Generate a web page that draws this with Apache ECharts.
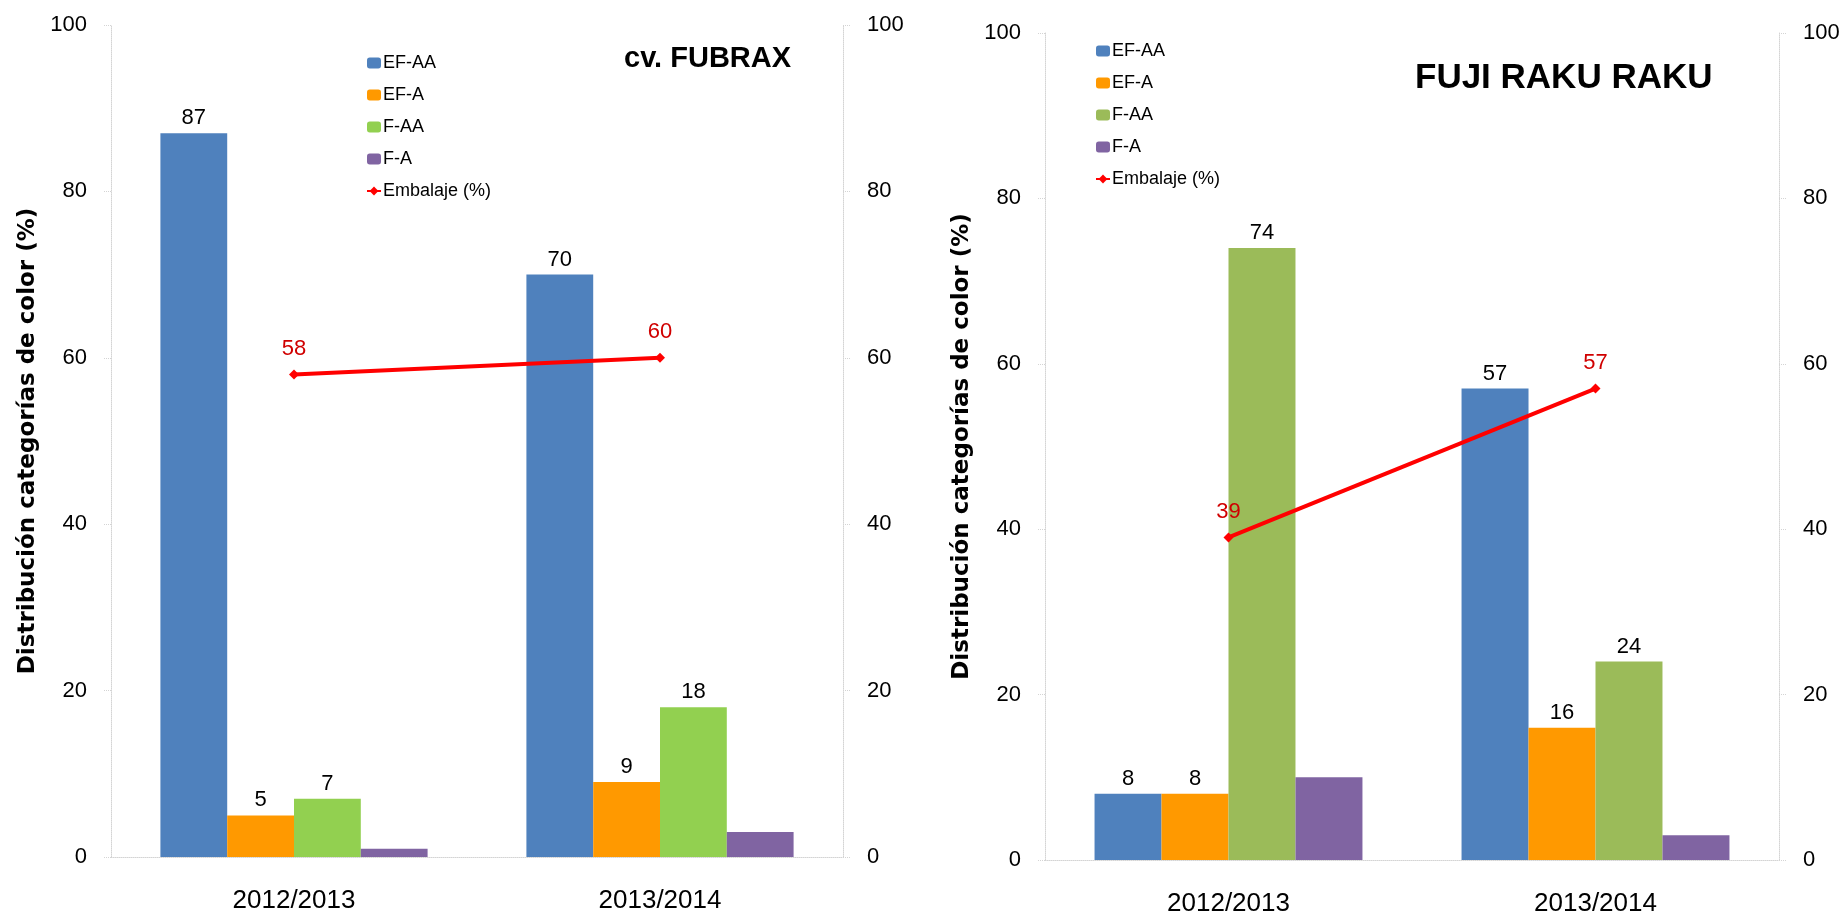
<!DOCTYPE html>
<html>
<head>
<meta charset="utf-8">
<script src="https://cdn.jsdelivr.net/npm/echarts@6/dist/echarts.min.js"></script>
<style>
  html, body { margin: 0; padding: 0; background: #fff; }
  #wrap { width: 1845px; height: 917px; position: relative; }
  .chart { position: absolute; top: 0; height: 917px; }
  #fubrax { left: 0; width: 920px; }
  #raku { left: 920px; width: 925px; }
</style>
</head>
<body>
<div id="wrap">
  <div class="chart" id="fubrax"></div>
  <div class="chart" id="raku"></div>
</div>
<script>
// categorias y valores
var years = ['2012/2013', '2013/2014'];
var barNames = ['EF-AA', 'EF-A', 'F-AA', 'F-A'];
var lineName = 'Embalaje (%)';
var yTicks = [0, 20, 40, 60, 80, 100];

// cv. FUBRAX
var fubraxEFAA = [87, 70];
var fubraxEFA = [5, 9];
var fubraxFAA = [7, 18];
var fubraxFA = [1, 3];
var fubraxEmbalaje = [58, 60];

// FUJI RAKU RAKU
var rakuEFAA = [8, 57];
var rakuEFA = [8, 16];
var rakuFAA = [74, 24];
var rakuFA = [10, 3];
var rakuEmbalaje = [39, 57];

var FONT = '"Liberation Sans", Arial, sans-serif';
var axisGray = '#d4d4d4';

function makeOption(cfg) {
  var colors = ['#4F81BD', '#FF9900', cfg.green, '#8064A2'];
  var barSeries = cfg.bars.map(function (vals, i) {
    return {
      name: barNames[i],
      type: 'bar',
      data: vals,
      barGap: '0%',
      barCategoryGap: '27%',
      itemStyle: { color: colors[i] },
      label: {
        show: i !== 3, // F-A sin etiqueta
        position: 'top',
        distance: 4,
        color: '#000',
        fontFamily: FONT,
        fontSize: 22
      }
    };
  });
  var yAxisBase = {
    type: 'value',
    min: yTicks[0],
    max: yTicks[yTicks.length - 1],
    interval: yTicks[1] - yTicks[0],
    splitLine: { show: false },
    axisLine: { show: true, lineStyle: { color: axisGray, type: 'dotted', width: 1 } },
    axisTick: { show: true, length: 7, lineStyle: { color: axisGray, type: 'dotted' } },
    axisLabel: { color: '#000', fontFamily: FONT, fontSize: 22, margin: 24 }
  };
  return {
    animation: false,
    backgroundColor: '#fff',
    title: {
      text: cfg.title,
      left: cfg.titleLeft,
      top: cfg.titleTop,
      textStyle: { fontFamily: FONT, fontWeight: 'bold', fontSize: cfg.titleSize, color: '#000' }
    },
    legend: {
      orient: 'vertical',
      left: cfg.legendLeft,
      top: cfg.legendTop,
      itemWidth: 14,
      itemHeight: 11,
      itemGap: 14,
      textStyle: { fontFamily: FONT, fontSize: 18, color: '#000', padding: [0, 0, 0, -3] },
      data: barNames.concat([lineName])
    },
    grid: cfg.grid,
    xAxis: {
      type: 'category',
      data: years,
      axisLine: { show: true, lineStyle: { color: axisGray, type: 'dotted' } },
      axisTick: { show: false },
      axisLabel: { color: '#000', fontFamily: FONT, fontSize: 26, margin: 31 }
    },
    yAxis: [
      Object.assign({}, yAxisBase, {
        position: 'left',
        name: 'Distribución categorías de color (%)',
        nameLocation: 'middle',
        nameGap: 67,
        nameRotate: 90,
        nameTextStyle: { fontFamily: '"DejaVu Sans", Verdana, sans-serif', fontWeight: 'bold', fontSize: 23, color: '#000' }
      }),
      Object.assign({}, yAxisBase, { position: 'right' })
    ],
    series: barSeries.concat([{
      name: lineName,
      type: 'line',
      yAxisIndex: 1,
      data: cfg.line,
      symbol: 'diamond',
      symbolSize: 10,
      lineStyle: { color: '#FF0000', width: 4 },
      itemStyle: { color: '#FF0000' },
      label: {
        show: true,
        position: 'top',
        distance: 10,
        color: '#D00000',
        fontFamily: FONT,
        fontSize: 22
      },
      z: 5
    }])
  };
}

var fubraxChart = echarts.init(document.getElementById('fubrax'));
fubraxChart.setOption(makeOption({
  title: 'cv. FUBRAX',
  titleLeft: 619, titleTop: 39, titleSize: 29,
  legendLeft: 361, legendTop: 49,
  green: '#92D050',
  grid: { left: 111, right: 77, top: 25, bottom: 60 },
  bars: [fubraxEFAA, fubraxEFA, fubraxFAA, fubraxFA],
  line: fubraxEmbalaje
}));

var rakuChart = echarts.init(document.getElementById('raku'));
rakuChart.setOption(makeOption({
  title: 'FUJI RAKU RAKU',
  titleLeft: 490, titleTop: 56, titleSize: 35,
  legendLeft: 170, legendTop: 37,
  green: '#9BBB59',
  grid: { left: 125, right: 66, top: 33, bottom: 55 },
  bars: [rakuEFAA, rakuEFA, rakuFAA, rakuFA],
  line: rakuEmbalaje
}));
</script>
</body>
</html>
